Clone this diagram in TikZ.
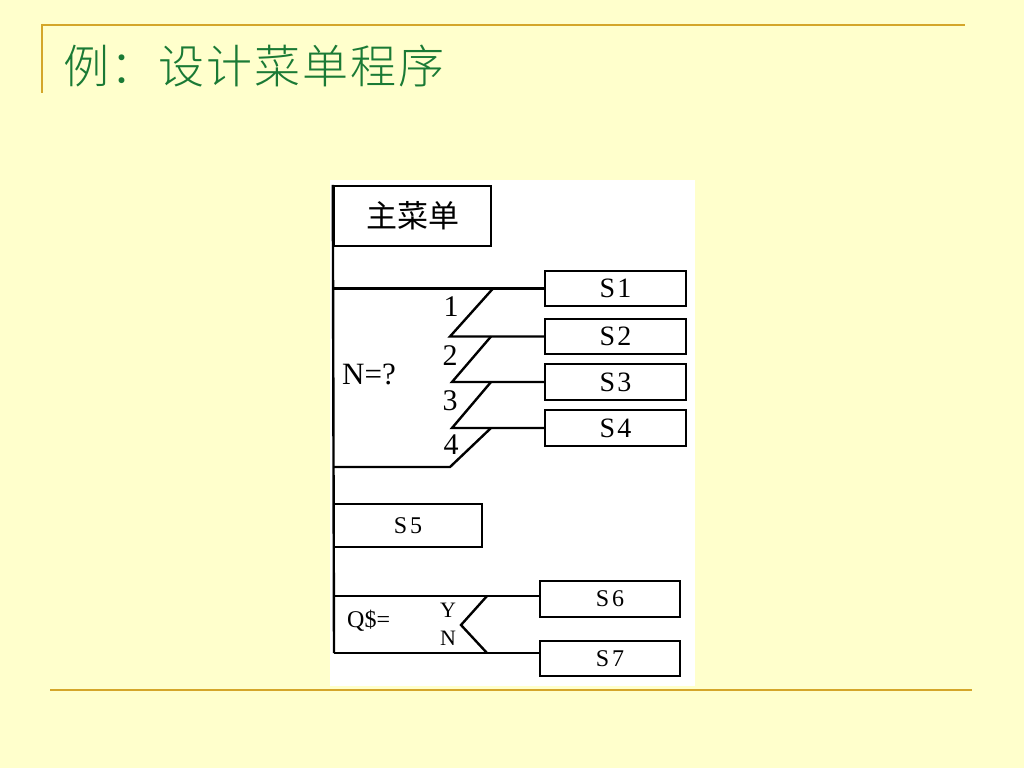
\documentclass[tikz,border=0pt]{standalone}
\usepackage{fontspec}
\setmainfont{Liberation Serif}
\newfontfamily\cjk{Noto Sans CJK SC}
\newfontfamily\cjktitle[LetterSpace=4]{Noto Sans CJK SC Light}
\definecolor{bg}{HTML}{FFFFCC}
\definecolor{gold}{HTML}{D4A62A}
\definecolor{titlegreen}{HTML}{1A7A35}
\begin{document}
\begin{tikzpicture}[x=1pt,y=-1pt,line width=2.4pt,
  sbox/.style={draw,line width=2.4pt,inner sep=0pt,fill=white,font=\fontsize{28}{28}\selectfont},
  sboxb/.style={sbox,font=\fontsize{24}{24}\selectfont},
  lbl/.style={inner sep=0pt,font=\fontsize{30}{30}\selectfont},
  slbl/.style={inner sep=0pt,font=\fontsize{22}{22}\selectfont}]
\useasboundingbox[fill=bg] (0,0) rectangle (1024,768);
\fill[white] (330,180) rectangle (695,686);
\draw[gold,line width=2pt] (42,25) -- (965,25);
\draw[gold,line width=2pt] (42,24) -- (42,93);
\draw[gold,line width=2pt] (50,690) -- (972,690);
\node[anchor=west,inner sep=0pt,text=titlegreen,font=\cjktitle\fontsize{46}{46}\selectfont] (title) at (62,66) {例：设计菜单程序};
% boxes
\node[sbox,minimum width=157pt,minimum height=60pt,font=\cjk\fontsize{31}{31}\selectfont] (main) at (412.5,216) {主菜单};
\node[sbox,minimum width=141pt,minimum height=35pt] (S1) at (615.5,288.5) {S\hspace{2pt}1};
\node[sbox,minimum width=141pt,minimum height=35pt] (S2) at (615.5,336.5) {S\hspace{2pt}2};
\node[sbox,minimum width=141pt,minimum height=36pt] (S3) at (615.5,382) {S\hspace{2pt}3};
\node[sbox,minimum width=141pt,minimum height=36pt] (S4) at (615.5,428) {S\hspace{2pt}4};
\node[sboxb,minimum width=148pt,minimum height=43pt] (S5) at (408,525.5) {S\hspace{3pt}5};
\node[sboxb,minimum width=140pt,minimum height=36pt] (S6) at (610,599) {S\hspace{3pt}6};
\node[sboxb,minimum width=140pt,minimum height=35pt] (S7) at (610,658.5) {S\hspace{3pt}7};
% coordinates
\coordinate (ntop) at (334,288.5);
\coordinate (nbot) at (334,467);
\coordinate (qtop) at (334,596);
\coordinate (qbot) at (334,653);
% main line
\draw (main.north west) -- (qbot);
% N=? case
\draw (ntop) -- (S1.west);
\draw (493,288.5) -- (450,336.5) -- (S2.west);
\draw (491,336.5) -- (452,382) -- (S3.west);
\draw (491,382) -- (452,428) -- (S4.west);
\draw (491,428) -- (450,467) -- (nbot);
\node[lbl] (l1) at (451,307) {1};
\node[lbl] (l2) at (450,356) {2};
\node[lbl] (l3) at (450,401) {3};
\node[lbl] (l4) at (451,445) {4};
\node[lbl,anchor=west,font=\fontsize{31}{31}\selectfont] (nq) at (341,374) {N=?};
% Q$ case
\draw (qtop) -- (qtop -| S6.west);
\draw (qbot) -- (qbot -| S7.west);
\draw (487,596) -- (461,625) -- (487,653);
\node[slbl] (ly) at (448,610) {Y};
\node[slbl] (ln) at (448,638) {N};
\node[inner sep=0pt,anchor=west,font=\fontsize{24}{24}\selectfont] (qs) at (346,621) {Q\$=};
\end{tikzpicture}
\end{document}
